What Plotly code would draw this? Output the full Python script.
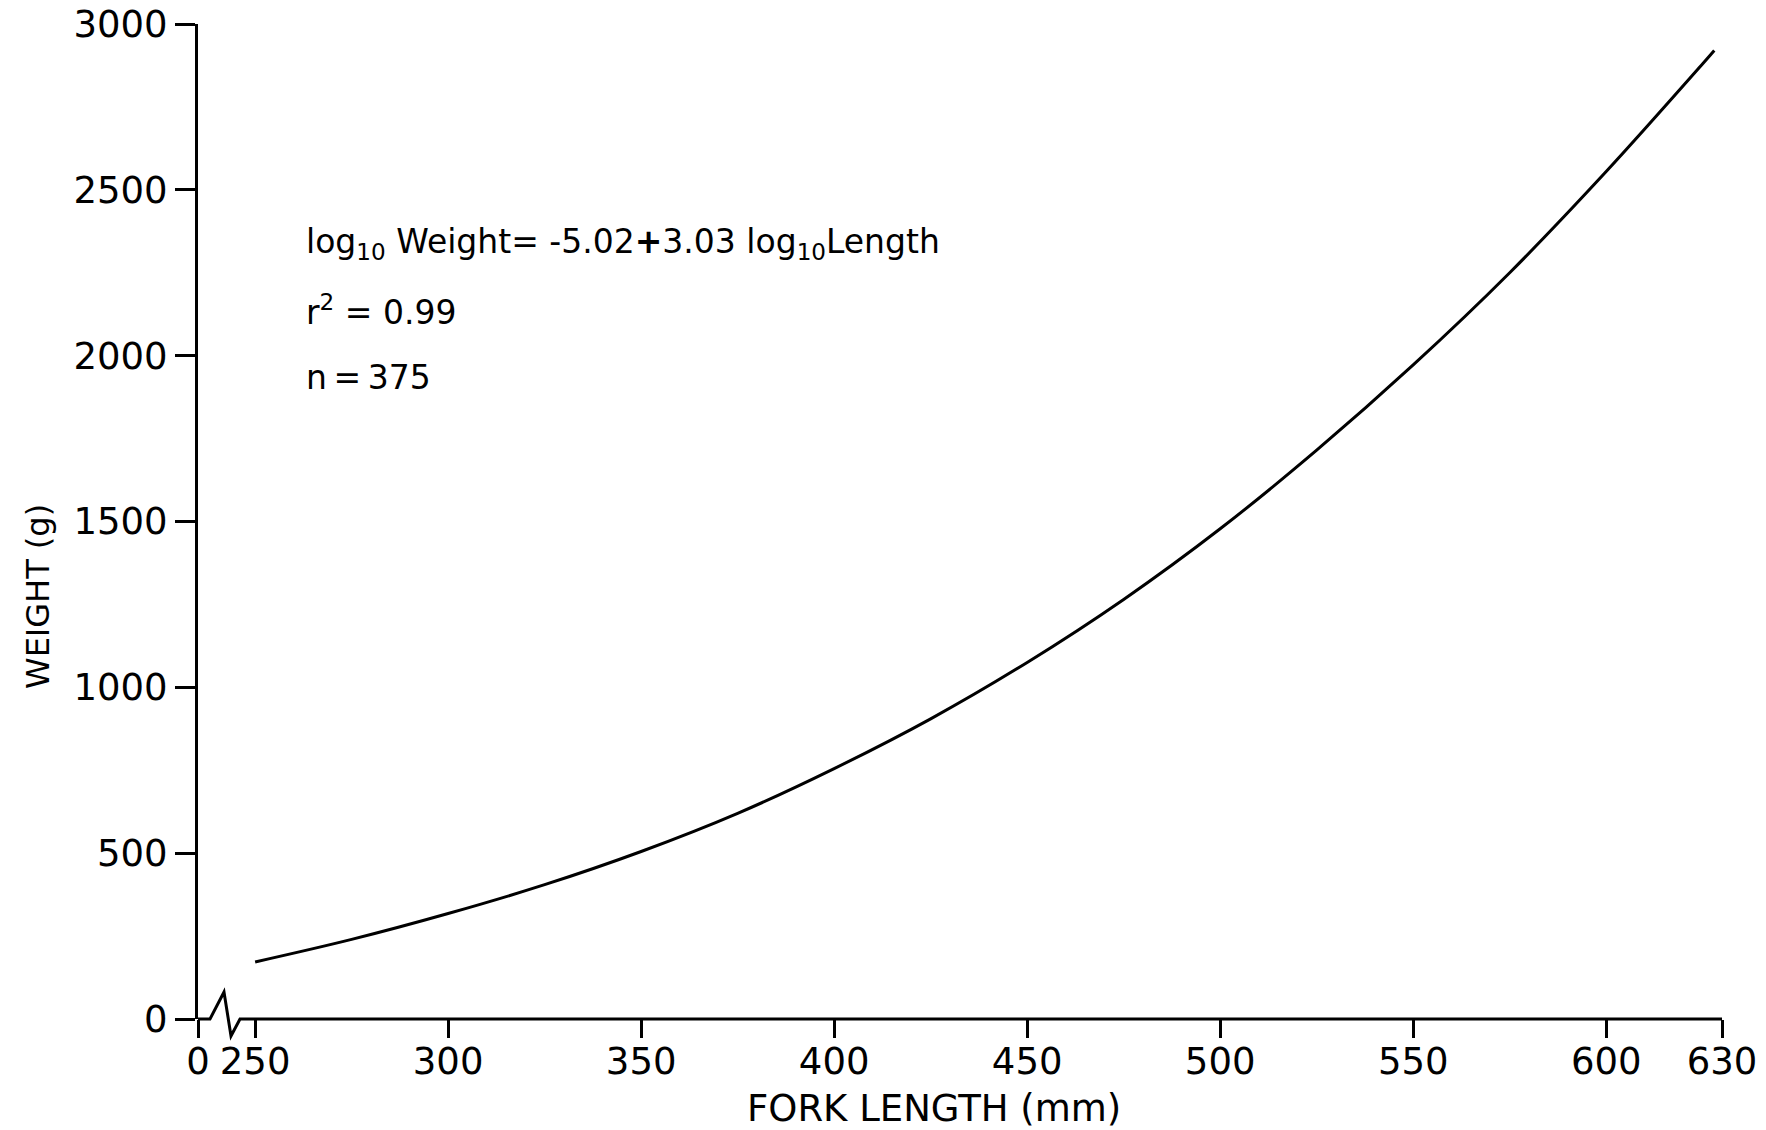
import plotly.graph_objects as go

# Values
fork_length_mm = [250, 275, 300, 325, 350, 375, 400, 425, 450, 475, 500, 525, 550, 575, 600, 625, 628]
weight_g = [172, 240, 318, 405, 505, 620, 755, 905, 1075, 1265, 1478, 1715, 1972, 2250, 2555, 2880, 2920]

# Axis ticks (broken x axis: "0" sits at the left end before the break)
x_break_pos = 235.2
x_tickvals = [x_break_pos, 250, 300, 350, 400, 450, 500, 550, 600, 630]
x_ticktext = ["0", "250", "300", "350", "400", "450", "500", "550", "600", "630"]
y_tickvals = [0, 500, 1000, 1500, 2000, 2500, 3000]
y_ticktext = ["0", "500", "1000", "1500", "2000", "2500", "3000"]

equation_lines = [
    "log<sub>10</sub> Weight= -5.02<b>+</b>3.03 log<sub>10</sub>Length",
    "r<sup>2</sup> = 0.99",
    "n\u2009=\u2009375",
]

FONT = "DejaVu Sans"
W, H = 1766, 1130
ML, MR, MT, MB = 198, 44, 24, 111
PW, PH = W - ML - MR, H - MT - MB


def px(xp):
    return (xp - ML) / PW


def py(yp):
    return (H - MB - yp) / PH


fig = go.Figure()
fig.add_trace(go.Scatter(
    x=fork_length_mm, y=weight_g, mode="lines",
    line=dict(color="black", width=3, shape="spline", smoothing=1.0),
    showlegend=False, hoverinfo="skip",
))

fig.update_layout(
    width=W, height=H,
    margin=dict(l=ML, r=MR, t=MT, b=MB, autoexpand=False),
    paper_bgcolor="white", plot_bgcolor="white",
    font=dict(family=FONT, size=36, color="black"),
    xaxis=dict(
        range=[x_break_pos, 630], showgrid=False, zeroline=False, showline=False,
        automargin=False,
        tickmode="array", tickvals=x_tickvals, ticktext=x_ticktext,
        ticks="outside", ticklen=18, tickwidth=3, tickcolor="black",
        ticklabelstandoff=-8,
        tickfont=dict(family=FONT, size=37, color="black"),
    ),
    yaxis=dict(
        range=[0, 3000], showgrid=False, zeroline=False,
        automargin=False,
        showline=True, linecolor="black", linewidth=3,
        tickmode="array", tickvals=y_tickvals, ticktext=y_ticktext,
        ticks="outside", ticklen=20, tickwidth=3, tickcolor="black",
        tickfont=dict(family=FONT, size=37, color="black"),
    ),
)

# x-axis line with the break zigzag
path = (f"M {px(198)},{py(1019)} L {px(210)},{py(1019)} L {px(224)},{py(992)} "
        f"L {px(231)},{py(1036)} L {px(240)},{py(1019)} L {px(1722)},{py(1019)}")
fig.add_shape(type="path", xref="paper", yref="paper", path=path,
              line=dict(color="black", width=3))

# Equation text
for txt, yc in zip(equation_lines, [243, 311, 377]):
    fig.add_annotation(x=px(304), y=py(yc), xref="paper", yref="paper",
                       text=txt, showarrow=False, xanchor="left", yanchor="middle",
                       font=dict(family=FONT, size=33, color="black"))

# Axis titles
fig.add_annotation(x=px(934), y=py(1108), xref="paper", yref="paper",
                   text="FORK LENGTH (mm)", showarrow=False,
                   xanchor="center", yanchor="middle",
                   font=dict(family=FONT, size=37, color="black"))
fig.add_annotation(x=px(38), y=py(597), xref="paper", yref="paper",
                   text="WEIGHT (g)", showarrow=False, textangle=-90,
                   xanchor="center", yanchor="middle",
                   font=dict(family=FONT, size=32, color="black"))

fig.write_html("out.html")
